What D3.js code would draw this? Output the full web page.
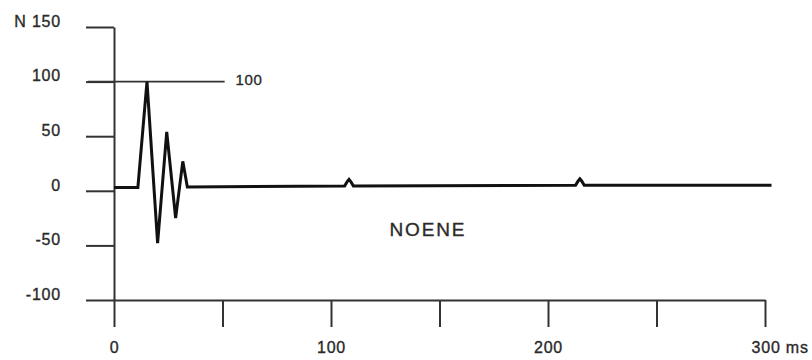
<!DOCTYPE html>
<html>
<head>
<meta charset="utf-8">
<script src="https://cdn.jsdelivr.net/npm/d3@7"></script>
<style>
  body { margin: 0; background: #fff; }
  #chart { width: 812px; height: 360px; }
  text { font-family: "Liberation Sans", Arial, sans-serif; fill: #2a2a2a; stroke: #2a2a2a; stroke-width: 0.35px; }
</style>
</head>
<body>
<div id="chart"></div>
<script>
// force trace (N) against time (ms)
const timeMs = [0, 11, 15.2, 20.1, 24.3, 28.4, 31.7, 33.8, 106.3, 107.5, 108.3, 109.1, 110.3, 212.7, 213.9, 214.7, 215.5, 216.7, 303];
const force  = [3, 3, 100, -48, 54, -25, 27, 3.5, 4.5, 8.5, 10.5, 8.5, 4.5, 5, 9, 11, 9, 5, 5];

const yTicks = [150, 100, 50, 0, -50, -100];
const xTicks = [0, 50, 100, 150, 200, 250, 300];
const xLabelled = [0, 100, 200, 300];
const refValue = 100;
const traceName = "NOENE";

const width = 812, height = 360;
const margin = {top: 27, left: 114, right: 47, bottom: 60};

const svg = d3.select("#chart")
    .append("svg")
    .attr("width", width)
    .attr("height", height);

const xScale = d3.scaleLinear()
    .domain([0, 300])
    .range([margin.left, width - margin.right]);

const yScale = d3.scaleLinear()
    .domain([-100, 150])
    .range([height - margin.bottom, margin.top]);

/*
AXES
*/
const yAxis = svg.append("g")
    .attr("transform", `translate(${margin.left},0)`)
    .call(d3.axisLeft(yScale)
        .tickValues(yTicks)
        .tickSize(28)
        .tickSizeOuter(0)
        .tickPadding(25)
        .tickFormat(function(d) { return d === 150 ? "N 150" : String(d); }));

const xAxis = svg.append("g")
    .attr("transform", `translate(0,${height - margin.bottom})`)
    .call(d3.axisBottom(xScale)
        .tickValues(xTicks)
        .tickSize(27)
        .tickSizeOuter(0)
        .tickPadding(15)
        .tickFormat(function(d) { return xLabelled.includes(d) ? (d === 300 ? "300 ms" : String(d)) : ""; }));

svg.selectAll(".domain, .tick line")
    .attr("stroke", "#333")
    .attr("stroke-width", 2);

svg.selectAll(".tick text")
    .attr("font-size", 16)
    .attr("letter-spacing", 0.8)
    .attr("fill", "#2a2a2a");

yAxis.selectAll(".tick text").attr("dy", "-0.05em");

// "300 ms": keep the number centred on its tick
xAxis.selectAll(".tick text")
    .filter(function(d) { return d === 300; })
    .attr("text-anchor", "start")
    .attr("x", -14);

/*
REFERENCE LINE AT 100
*/
svg.append("line")
    .attr("x1", margin.left - 26)
    .attr("x2", xScale(51))
    .attr("y1", yScale(refValue))
    .attr("y2", yScale(refValue))
    .attr("stroke", "#333")
    .attr("stroke-width", 1.6);

svg.append("text")
    .attr("x", xScale(56))
    .attr("y", yScale(refValue))
    .attr("dy", "0.25em")
    .attr("font-size", 15)
    .attr("letter-spacing", 0.6)
    .text(refValue);

/*
TRACE
*/
const line = d3.line()
    .x(function(d, i) { return xScale(timeMs[i]); })
    .y(function(d) { return yScale(d); })
    .curve(d3.curveLinear);

svg.append("path")
    .datum(force)
    .attr("d", line)
    .attr("fill", "none")
    .attr("stroke", "#111")
    .attr("stroke-width", 3)
    .attr("stroke-linejoin", "miter");

svg.append("text")
    .attr("x", xScale(127))
    .attr("y", yScale(-41))
    .attr("font-size", 19)
    .attr("letter-spacing", 1.8)
    .text(traceName);
</script>
</body>
</html>
